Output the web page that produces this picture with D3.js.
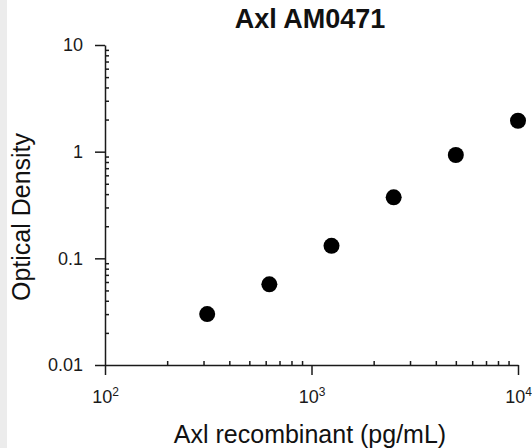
<!DOCTYPE html>
<html>
<head>
<meta charset="utf-8">
<script src="https://cdn.jsdelivr.net/npm/d3@7"></script>
<style>
  body { margin: 0; background: #fff; }
  svg { display: block; font-family: Arial, "Liberation Sans", sans-serif; }
  .axis path, .axis line { stroke: #1a1a1a; stroke-width: 1.5; }
</style>
</head>
<body>
<svg id="chart" width="532" height="448"></svg>
<script>
// concentrations (pg/mL) and optical density
var conc = [312.5, 625, 1250, 2500, 5000, 10000];
var od = [0.030, 0.057, 0.131, 0.373, 0.93, 1.95];

var xMajor = [100, 1000, 10000];
var yMajor = [0.01, 0.1, 1, 10];
var yLabels = ["0.01", "0.1", "1", "10"];
var xExp = ["2", "3", "4"];

var title = "Axl AM0471";
var xTitle = "Axl recombinant (pg/mL)";
var yTitle = "Optical Density";

var width = 532, height = 448;
var margin = {top: 45, right: 14, bottom: 83, left: 105};

var svg = d3.select("#chart");

// light grey strip on the left edge
svg.append("rect")
    .attr("x", 0).attr("y", 0)
    .attr("width", 7).attr("height", height)
    .attr("fill", "#ececec");

var x = d3.scaleLog().domain([100, 10000]).range([margin.left, width - margin.right]);
var y = d3.scaleLog().domain([0.01, 10]).range([height - margin.bottom, margin.top]);

function minors(lo, hi) {
  var out = [];
  for (var d = lo; d < hi; d *= 10) {
    for (var k = 2; k <= 9; k++) out.push(+(d * k).toPrecision(3));
  }
  return out;
}

// minor ticks pointing inward
svg.append("g")
    .attr("class", "axis")
    .attr("transform", "translate(0," + y.range()[0] + ")")
    .call(d3.axisBottom(x).tickValues(minors(100, 10000)).tickSize(-4).tickFormat(""))
    .select(".domain").remove();

svg.append("g")
    .attr("class", "axis")
    .attr("transform", "translate(" + x.range()[0] + ",0)")
    .call(d3.axisLeft(y).tickValues(minors(0.01, 10)).tickSize(-4).tickFormat(""))
    .select(".domain").remove();

// major axes
var gx = svg.append("g")
    .attr("class", "axis")
    .attr("transform", "translate(0," + y.range()[0] + ")")
    .call(d3.axisBottom(x).tickValues(xMajor).tickSize(10).tickSizeOuter(0).tickPadding(15).tickFormat(""));

gx.selectAll(".tick text").each(function(d, i) {
  var t = d3.select(this);
  t.append("tspan").text("10");
  t.append("tspan").text(xExp[i]).style("font-size", "12px").attr("dy", "-7");
});

var gy = svg.append("g")
    .attr("class", "axis")
    .attr("transform", "translate(" + x.range()[0] + ",0)")
    .call(d3.axisLeft(y).tickValues(yMajor).tickSize(10).tickSizeOuter(0).tickPadding(12)
      .tickFormat(function(d, i) { return yLabels[i]; }));

svg.selectAll(".axis").attr("font-family", null).attr("font-size", null);
svg.selectAll(".axis .tick text")
    .style("font-size", "18px")
    .style("font-family", "Arial, 'Liberation Sans', sans-serif")
    .attr("fill", "#1a1a1a");

// points
svg.append("g")
  .selectAll("circle")
  .data(conc)
  .join("circle")
    .attr("cx", function(d) { return x(d); })
    .attr("cy", function(d, i) { return y(od[i]); })
    .attr("r", 8)
    .attr("fill", "#000");

// titles
svg.append("text")
    .attr("x", 310).attr("y", 28)
    .attr("text-anchor", "middle")
    .attr("font-size", "27px")
    .attr("font-weight", "bold")
    .attr("fill", "#111")
    .text(title);

svg.append("text")
    .attr("x", 310).attr("y", 443)
    .attr("text-anchor", "middle")
    .attr("font-size", "25px")
    .attr("fill", "#111")
    .text(xTitle);

svg.append("text")
    .attr("transform", "translate(30,217) rotate(-90)")
    .attr("text-anchor", "middle")
    .attr("font-size", "25px")
    .attr("fill", "#111")
    .text(yTitle);
</script>
</body>
</html>
